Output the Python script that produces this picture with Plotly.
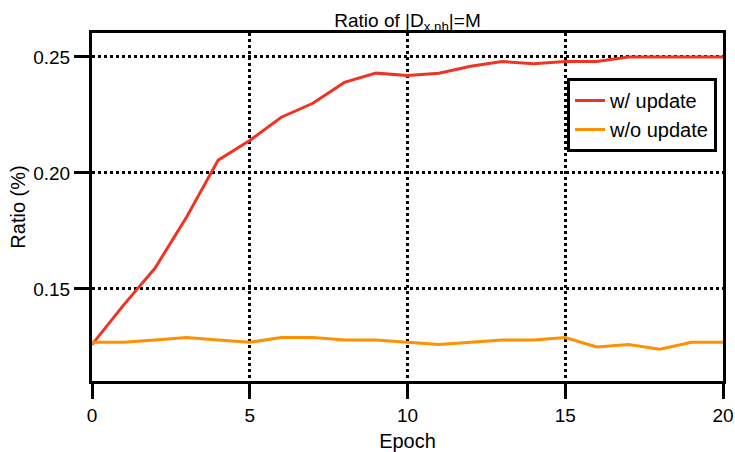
import plotly.graph_objects as go

epochs = list(range(21))
with_update = [0.126, 0.143, 0.159, 0.181, 0.2055, 0.214, 0.224, 0.230, 0.239, 0.243, 0.242,
               0.243, 0.246, 0.248, 0.247, 0.248, 0.248, 0.250, 0.250, 0.250, 0.250]
without_update = [0.127, 0.127, 0.128, 0.129, 0.128, 0.127, 0.129, 0.129, 0.128, 0.128, 0.127,
                  0.126, 0.127, 0.128, 0.128, 0.129, 0.125, 0.126, 0.124, 0.127, 0.127]

FONT = "Liberation Sans, Arial, Helvetica, sans-serif"

fig = go.Figure()
fig.add_trace(go.Scatter(x=epochs, y=with_update, mode="lines", name="w/ update",
                         line=dict(color="#EE3524", width=3)))
fig.add_trace(go.Scatter(x=epochs, y=without_update, mode="lines", name="w/o update",
                         line=dict(color="#FF9100", width=3)))

axis_common = dict(
    showline=True, linewidth=3, linecolor="black", mirror=True,
    ticks="outside", ticklen=15, tickwidth=3, tickcolor="black",
    showgrid=True, gridcolor="black", gridwidth=3, griddash="dot",
    zeroline=False, automargin=False,
    tickfont=dict(size=19, color="black", family=FONT),
    title_font=dict(size=20, color="black", family=FONT),
)

fig.update_xaxes(range=[0, 20], tickvals=[0, 5, 10, 15, 20], title_text="Epoch",
                 title_standoff=10, **axis_common)
fig.update_yaxes(range=[0.1103, 0.2603], tickvals=[0.15, 0.20, 0.25],
                 ticktext=["0.15", "0.20", "0.25"], title_text="Ratio (%)",
                 title_standoff=3, **axis_common)

fig.update_layout(
    width=735, height=452,
    margin=dict(l=92, r=12, t=33, b=71),
    paper_bgcolor="white", plot_bgcolor="white",
    font=dict(family=FONT, color="black", size=19),
    title=dict(text="Ratio of |D<sub>x,nh</sub>|=M", xref="paper", x=0.5, xanchor="center",
               yref="container", y=1 - 20 / 452, yanchor="middle",
               font=dict(size=19, color="black", family=FONT)),
    legend=dict(x=0.9905, xanchor="right", y=0.8707, yanchor="top",
                bordercolor="black", borderwidth=3, bgcolor="white",
                font=dict(size=20, color="black", family=FONT),
                itemwidth=30, tracegroupgap=0),
    showlegend=True,
)

fig.write_html("out.html")
